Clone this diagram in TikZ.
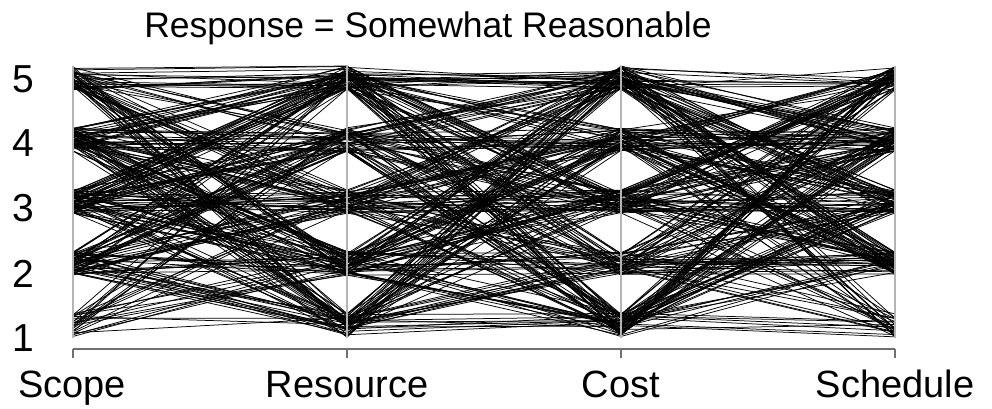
\documentclass[tikz,border=0pt]{standalone}
\usepackage{fontspec}
\setmainfont{Liberation Sans}
\definecolor{axisgray}{HTML}{B4B4B4}
\definecolor{basegray}{HTML}{707070}
\begin{document}
\begin{tikzpicture}[x=1pt,y=-1pt,
  dataline/.style={black,line width=0.75pt,line join=round},
  vaxis/.style={axisgray,line width=1.4pt},
  baseaxis/.style={basegray,line width=1.1pt},
  ticklab/.style={font=\fontsize{39}{39}\selectfont,inner sep=0pt},
  axlab/.style={font=\fontsize{38}{38}\selectfont,inner sep=0pt,anchor=base},
  titlelab/.style={font=\fontsize{35.5}{35.5}\selectfont,inner sep=0pt,anchor=base}]
\useasboundingbox (0,0) rectangle (992,408);
\pgfmathsetseed{9137}
\foreach \i in {1,...,300}{
  \pgfmathsetmacro\ra{rnd}
  \pgfmathsetmacro\rb{rnd}
  \pgfmathsetmacro\rc{rnd}
  \pgfmathsetmacro\rd{rnd}
  \pgfmathsetmacro\a{int(1+(\ra>0.08)+(\ra>0.33)+(\ra>0.58)+(\ra>0.83))}
  \pgfmathsetmacro\b{int(1+(\rb>0.16)+(\rb>0.38)+(\rb>0.62)+(\rb>0.80))}
  \pgfmathsetmacro\c{int(1+(\rc>0.20)+(\rc>0.40)+(\rc>0.60)+(\rc>0.80))}
  \pgfmathsetmacro\d{int(1+(\rd>0.17)+(\rd>0.37)+(\rd>0.57)+(\rd>0.82))}
  \pgfmathsetmacro\ya{66+(5-\a)*61.75+rnd*24}
  \pgfmathsetmacro\yb{66+(5-\b)*61.75+rnd*24}
  \pgfmathsetmacro\yc{66+(5-\c)*61.75+rnd*24}
  \pgfmathsetmacro\yd{66+(5-\d)*61.75+rnd*24}
  \draw[dataline] (73,\ya) -- (347,\yb) -- (621,\yc) -- (895,\yd);
}
\coordinate (s1) at (73,66);  \coordinate (s2) at (73,338);
\coordinate (r1) at (347,66); \coordinate (r2) at (347,338);
\coordinate (c1) at (621,66); \coordinate (c2) at (621,338);
\coordinate (h1) at (895,66); \coordinate (h2) at (895,338);
\draw[vaxis] (s1) -- (s2);
\draw[vaxis] (r1) -- (r2);
\draw[vaxis] (c1) -- (c2);
\draw[vaxis] (h1) -- (h2);
\coordinate (bs) at (73,349); \coordinate (bh) at (895,349);
\draw[baseaxis] (bs) -- (bh);
\foreach \x/\n in {73/ts,347/tr,621/tc,895/th}{
  \coordinate (\n a) at (\x,349); \coordinate (\n b) at (\x,358);
  \draw[baseaxis] (\n a) -- (\n b);
}
\node[ticklab] (l5) at (23,79) {5};
\node[ticklab] (l4) at (23,143) {4};
\node[ticklab] (l3) at (23,208) {3};
\node[ticklab] (l2) at (23,274) {2};
\node[ticklab] (l1) at (23,338) {1};
\node[axlab] (xs) at (72,397) {Scope};
\node[axlab] (xr) at (347,397) {Resource};
\node[axlab] (xc) at (621,397) {Cost};
\node[axlab] (xh) at (895,397) {Schedule};
\node[titlelab] (title) at (428,37) {Response = Somewhat Reasonable};
\end{tikzpicture}
\end{document}
